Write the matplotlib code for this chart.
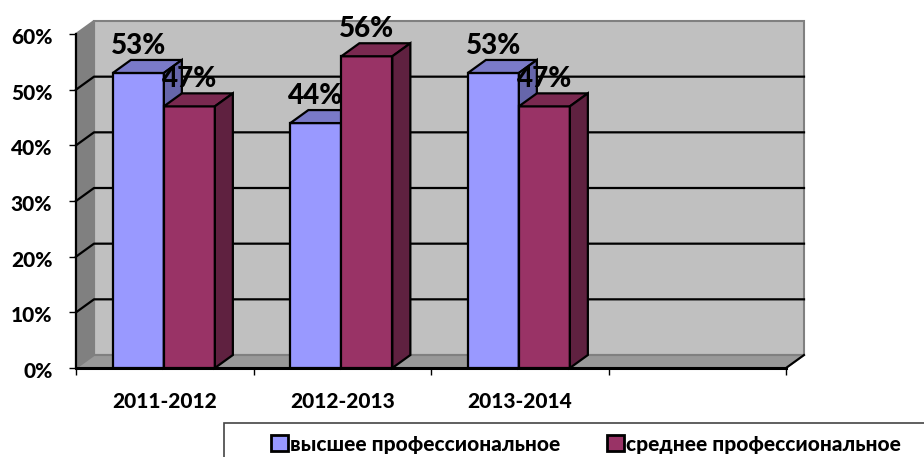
# import libraries
import matplotlib
matplotlib.use('Agg')
import matplotlib.pyplot as plt
from matplotlib.patches import Polygon, Patch, Rectangle
from matplotlib.transforms import ScaledTranslation

plt.rcParams['font.family'] = ['Lato', 'Noto Sans', 'DejaVu Sans']

# data
years = ['2011-2012', '2012-2013', '2013-2014', '']
higher = [53, 44, 53]
secondary = [47, 56, 47]
yticks = [0, 10, 20, 30, 40, 50, 60]
name_higher = 'высшее профессиональное'
name_secondary = 'среднее профессиональное'

# colours: front, top, side
blue = ['#9999ff', '#7a7ac8', '#6666aa']
maroon = ['#993366', '#7a2950', '#5f2140']

# depth of the fake 3d box, in data units (18 px right, 13 px up)
W, H = 924, 457
dx = 18/177.5
dy = 13/(334/60)
bar_w = 51/177.5
heavy = 900

fig = plt.figure(figsize=(W/100, H/100), dpi=100)
ax = fig.add_axes([76/W, (H-368)/H, 710/W, 334/H])
ax.set_xlim(0, 4)
ax.set_ylim(0, 60)

# walls
def poly(pts, fc, ec='#808080', lw=1.5, z=1):
    ax.add_patch(Polygon(pts, closed=True, fc=fc, ec=ec, lw=lw, zorder=z, clip_on=False))

poly([(dx, dy), (4+dx, dy), (4+dx, 60+dy), (dx, 60+dy)], '#c0c0c0')
poly([(0, 0), (dx, dy), (dx, 60+dy), (0, 60)], '#808080')
poly([(0, 0), (4, 0), (4+dx, dy), (dx, dy)], '#999999')
ax.plot([4, 4+dx], [0, dy], color='black', lw=1.5, zorder=1.5, clip_on=False)

# grid lines run along the side wall and the back wall
for v in yticks[1:-1]:
    ax.plot([0, dx, 4+dx], [v, v+dy, v+dy], color='black', lw=1.6, zorder=1.5, clip_on=False)

# bars with top and side faces
def bar3d(x, v, cols):
    ax.bar(x, v, bar_w, align='edge', color=cols[0], edgecolor='black', lw=1.6, zorder=3)
    poly([(x, v), (x+bar_w, v), (x+bar_w+dx, v+dy), (x+dx, v+dy)], cols[1], 'black', 1.6, 3)
    poly([(x+bar_w, 0), (x+bar_w+dx, dy), (x+bar_w+dx, v+dy), (x+bar_w, v)], cols[2], 'black', 1.6, 3)

for i in range(3):
    c = i+0.495
    bar3d(c-bar_w, higher[i], blue)
    bar3d(c, secondary[i], maroon)

for i in range(3):
    c = i+0.495
    for x, v in [(c-bar_w/2, higher[i]), (c+bar_w/2, secondary[i])]:
        ax.annotate('%d%%' % v, (x, v), xytext=(0, 19.5), textcoords='offset points',
                    ha='center', va='center', fontsize=20, fontweight=heavy,
                    zorder=5, annotation_clip=False)

# axes
ax.spines['top'].set_visible(False)
ax.spines['right'].set_visible(False)
ax.spines['left'].set_linewidth(1.6)
ax.spines['bottom'].set_linewidth(2.2)
ax.spines['left'].set_zorder(2)
ax.spines['bottom'].set_zorder(2)
ax.set_yticks(yticks)
ax.set_yticklabels(['%d%%' % v for v in yticks], fontsize=15, fontweight=heavy)
ax.set_xticks(range(5))
ax.set_xticklabels([])
ax.set_xticks([i+0.5 for i in range(4)], years, minor=True, fontsize=15, fontweight=heavy)
ax.tick_params(axis='x', which='major', length=5, width=1)
ax.tick_params(axis='x', which='minor', length=0, pad=17)
ax.tick_params(axis='y', length=5, width=1, pad=12)

# y labels sit a little below their ticks
for lab in ax.get_yticklabels():
    lab.set_transform(lab.get_transform() + ScaledTranslation(0, -2/100, fig.dpi_scale_trans))

# legend box runs off the bottom right of the picture
fig.add_artist(Rectangle((224/W, -20/H), 760/W, (20+H-423)/H, transform=fig.transFigure,
                         fc='white', ec='#444444', lw=1.2))
handles = [Patch(fc=blue[0], ec='black', lw=2, label=name_higher),
           Patch(fc=maroon[0], ec='black', lw=2, label=name_secondary)]
fig.legend(handles=handles, loc='center', bbox_to_anchor=(586/W, (H-444)/H), ncol=2,
           prop={'size': 15, 'weight': heavy}, frameon=False, borderpad=0, borderaxespad=0,
           handlelength=0.8, handleheight=0.8, handletextpad=0.1, columnspacing=2.25)

fig.savefig('out.png', dpi=100)
